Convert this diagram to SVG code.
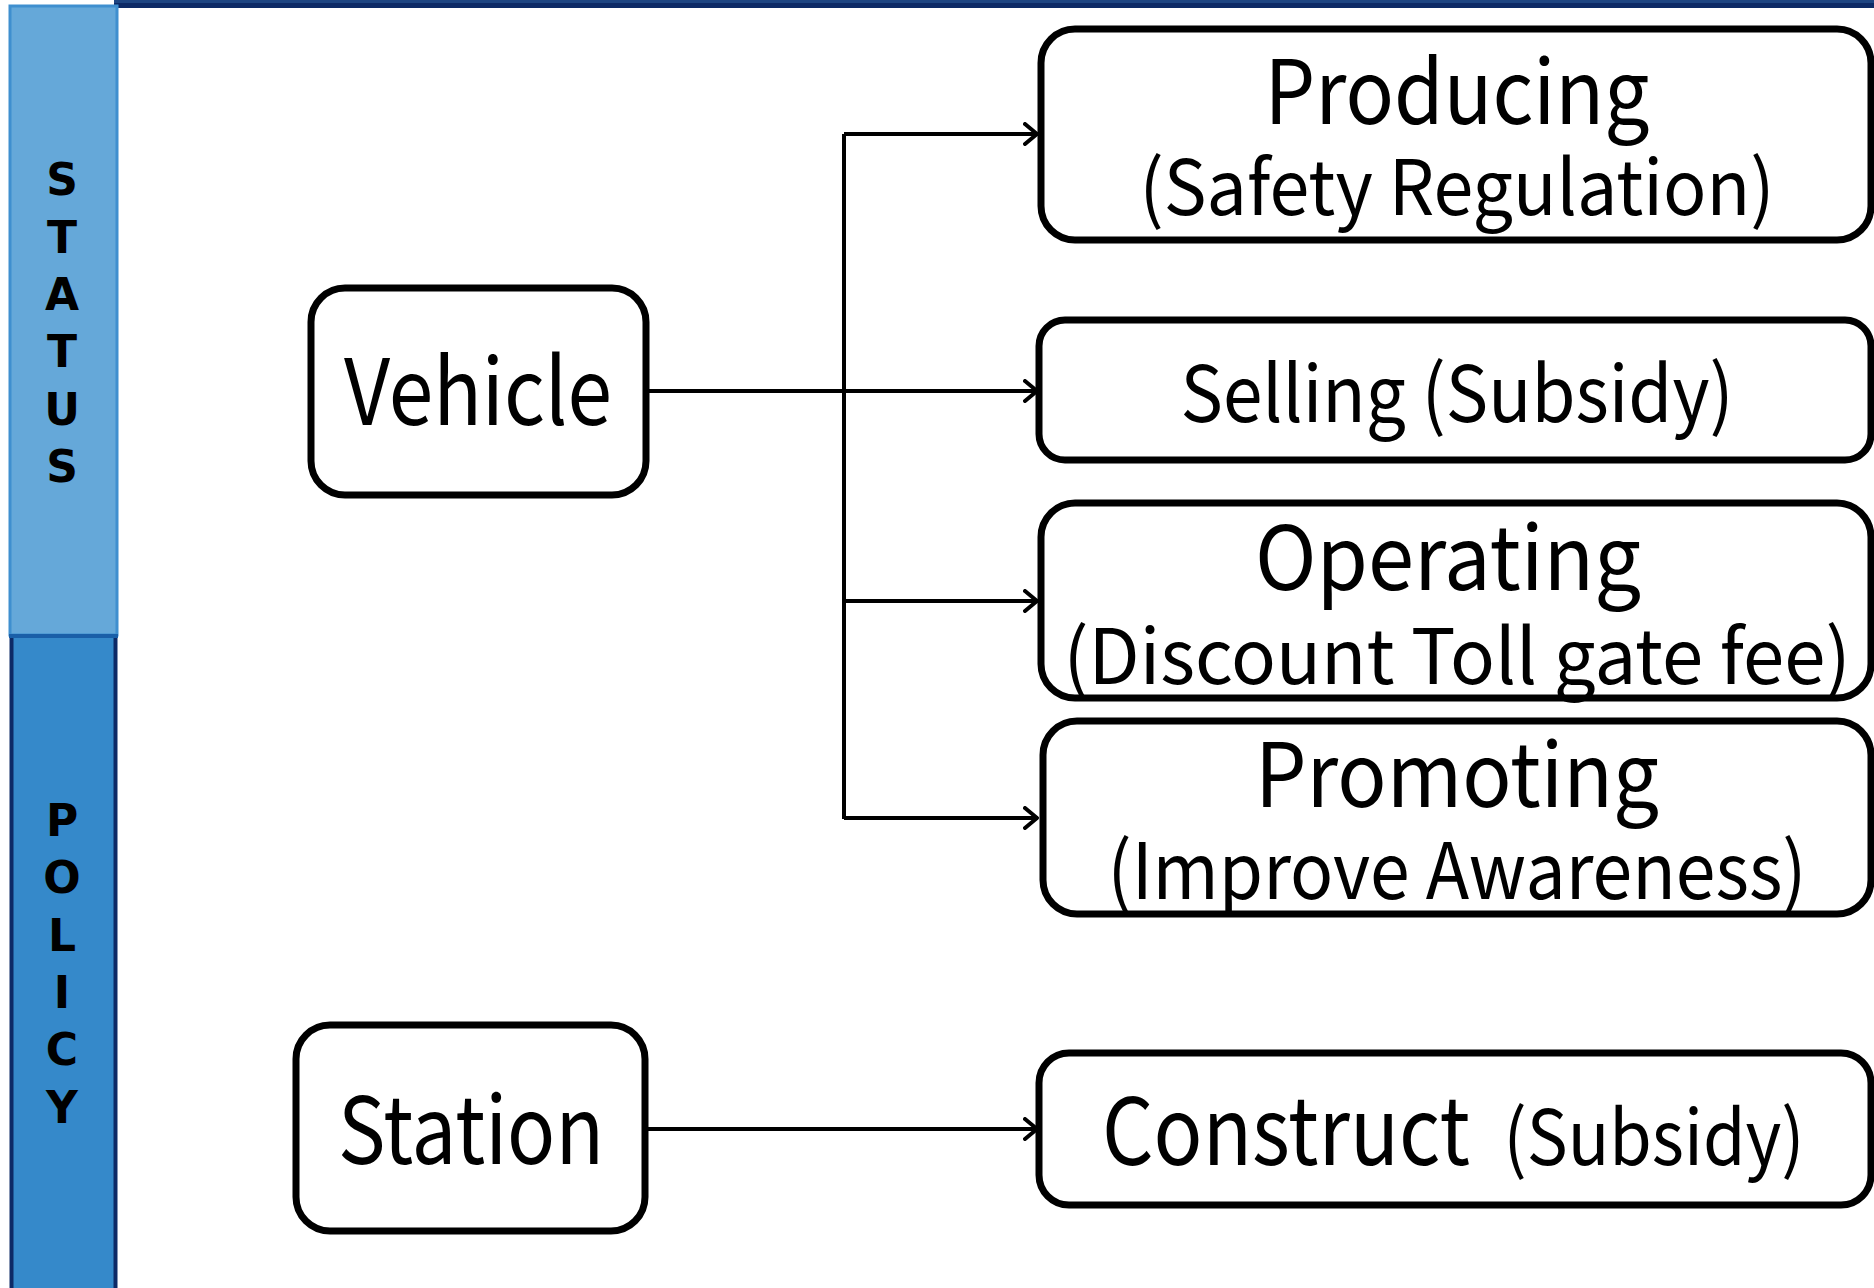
<svg xmlns="http://www.w3.org/2000/svg" width="1874" height="1288" viewBox="0 0 1874 1288">
<defs>
<style>
.box{fill:#ffffff;stroke:#000000;stroke-width:7}
.t{font-family:"Noto Sans CJK KR","Noto Sans",sans-serif;fill:#000000;text-anchor:middle}
.lt{font-family:"DejaVu Sans","Noto Sans",sans-serif;font-weight:700;font-size:44px;fill:#000000;text-anchor:middle}
.c{fill:none;stroke:#000000;stroke-width:4}
</style>
<marker id="arr" viewBox="0 0 16 24" refX="15" refY="12" markerWidth="16" markerHeight="24" markerUnits="userSpaceOnUse" orient="auto">
<path d="M2,2 L14,12 L2,22" fill="none" stroke="#000000" stroke-width="4" stroke-linecap="round" stroke-linejoin="round"/>
</marker>
</defs>
<rect x="0" y="0" width="1874" height="1288" fill="#ffffff"/>
<g id="topline">
<rect x="114" y="0" width="1760" height="8" fill="#0d2a66"/>
<rect x="114" y="0" width="1760" height="3" fill="#1e4582"/>
</g>
<g id="status-band">
<rect x="10" y="6" width="107" height="629" fill="#65a8d9" stroke="#3f8fcf" stroke-width="3"/>
<text class="lt" x="62" y="195">S</text>
<text class="lt" x="62" y="253">T</text>
<text class="lt" x="62" y="310">A</text>
<text class="lt" x="62" y="367">T</text>
<text class="lt" x="62" y="425">U</text>
<text class="lt" x="62" y="482">S</text>
</g>
<g id="policy-band">
<rect x="11.5" y="636" width="104" height="660" fill="#3589ca" stroke="#0d2a66" stroke-width="4"/>
<line x1="9" y1="636" x2="118" y2="636" stroke="#1a5fa8" stroke-width="4"/>
<text class="lt" x="62" y="836">P</text>
<text class="lt" x="62" y="893">O</text>
<text class="lt" x="62" y="951">L</text>
<text class="lt" x="62" y="1008">I</text>
<text class="lt" x="62" y="1065">C</text>
<text class="lt" x="62" y="1123">Y</text>
</g>
<g id="connectors">
<line class="c" x1="645" y1="391" x2="1038" y2="391" marker-end="url(#arr)"/>
<line class="c" x1="844" y1="134" x2="844" y2="819"/>
<line class="c" x1="844" y1="134" x2="1038" y2="134" marker-end="url(#arr)"/>
<line class="c" x1="844" y1="601" x2="1038" y2="601" marker-end="url(#arr)"/>
<line class="c" x1="844" y1="818" x2="1038" y2="818" marker-end="url(#arr)"/>
<line class="c" x1="645" y1="1129" x2="1038" y2="1129" marker-end="url(#arr)"/>
</g>
<g id="vehicle">
<rect class="box" x="311" y="288" width="335" height="207" rx="34"/>
<text class="t" x="478" y="425" font-size="92" textLength="268" lengthAdjust="spacingAndGlyphs">Vehicle</text>
</g>
<g id="producing">
<rect class="box" x="1041" y="29" width="830" height="211" rx="34"/>
<text class="t" x="1457" y="124" font-size="88" textLength="385" lengthAdjust="spacingAndGlyphs">Producing</text>
<text class="t" x="1457" y="215" font-size="76" textLength="635" lengthAdjust="spacingAndGlyphs">(Safety Regulation)</text>
</g>
<g id="selling">
<rect class="box" x="1039" y="320" width="832" height="140" rx="26"/>
<text class="t" x="1457" y="422" font-size="78" textLength="553" lengthAdjust="spacingAndGlyphs">Selling (Subsidy)</text>
</g>
<g id="operating">
<rect class="box" x="1041" y="503" width="830" height="195" rx="34"/>
<text class="t" x="1448" y="590" font-size="88" textLength="386" lengthAdjust="spacingAndGlyphs">Operating</text>
<text class="t" x="1457" y="684" font-size="76" textLength="787" lengthAdjust="spacingAndGlyphs">(Discount Toll gate fee)</text>
</g>
<g id="promoting">
<rect class="box" x="1043" y="721" width="828" height="193" rx="34"/>
<text class="t" x="1457" y="807" font-size="88" textLength="404" lengthAdjust="spacingAndGlyphs">Promoting</text>
<text class="t" x="1457" y="899" font-size="78" textLength="699" lengthAdjust="spacingAndGlyphs">(Improve Awareness)</text>
</g>
<g id="station">
<rect class="box" x="296" y="1025" width="349" height="206" rx="34"/>
<text class="t" x="471" y="1164" font-size="93" textLength="266" lengthAdjust="spacingAndGlyphs">Station</text>
</g>
<g id="construct">
<rect class="box" x="1039" y="1053" width="832" height="152" rx="30"/>
<text class="t" x="1286" y="1165" font-size="93" textLength="368" lengthAdjust="spacingAndGlyphs">Construct</text>
<text class="t" x="1654" y="1165" font-size="76" textLength="301" lengthAdjust="spacingAndGlyphs">(Subsidy)</text>
</g>
</svg>
